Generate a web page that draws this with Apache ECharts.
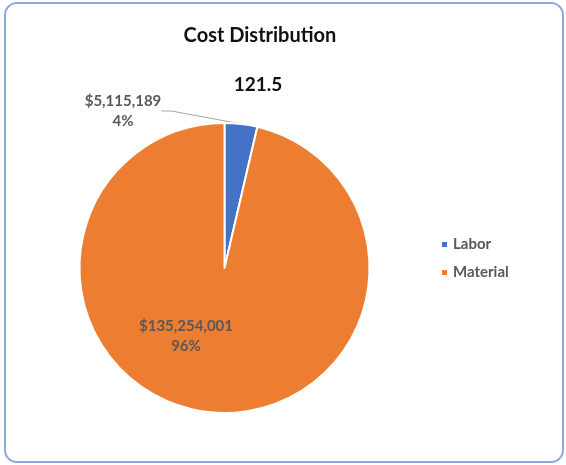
<!DOCTYPE html>
<html><head><meta charset="utf-8">
<script src="https://cdn.jsdelivr.net/npm/echarts@6/dist/echarts.min.js"></script>
<style>
html,body{margin:0;padding:0;background:#fff;overflow:hidden}
#c{position:absolute;left:0;top:0;width:566px;height:465px}
</style></head>
<body>
<div id="c"></div>
<script>
const categories = ['Labor', 'Material'];
const values = [5115189, 135254001];
const colors = ['#4472C4', '#ED7D31'];
const titleText = 'Cost Distribution';
const subtitleText = '121.5';

const total = values.reduce((a, b) => a + b, 0);
const fmt = v => '$' + v.toLocaleString('en-US');
const chart = echarts.init(document.getElementById('c'), null, {renderer: 'canvas'});
const font = 'Lato, "Open Sans", sans-serif';
chart.setOption({
  backgroundColor: '#fff',
  animation: false,
  graphic: [{
    type: 'rect', z: -10, silent: true,
    shape: {x: 5, y: 3, width: 558, height: 459, r: 12},
    style: {fill: 'none', stroke: '#8eaadb', lineWidth: 2}
  }],
  title: [
    {text: titleText, left: 255, top: 21, textAlign: 'center',
     textStyle: {fontFamily: font, fontWeight: 'bold', fontSize: 20, color: '#111'}},
    {text: subtitleText, left: 253, top: 70, textAlign: 'center',
     textStyle: {fontFamily: font, fontWeight: 'bold', fontSize: 19, color: '#111'}}
  ],
  legend: {
    orient: 'vertical', left: 435, top: 232, itemWidth: 7, itemHeight: 7, itemGap: 13,
    icon: 'rect',
    textStyle: {fontFamily: font, fontWeight: 'bold', fontSize: 15, color: '#595959'},
    data: categories
  },
  series: [{
    type: 'pie',
    center: [224.5, 268],
    radius: [0, 145],
    startAngle: 90,
    clockwise: true,
    itemStyle: {borderColor: '#fff', borderWidth: 2},
    label: {
      fontFamily: font, fontWeight: 'bold', fontSize: 15, color: '#595959', lineHeight: 20,
      formatter: p => fmt(p.value) + '\n' + Math.round(p.value / total * 100) + '%'
    },
    labelLine: {lineStyle: {color: '#a6a6a6', width: 1}, length: 10, length2: 10},
    labelLayout: function (p) {
      if (p.dataIndex === 0) return {x: 123, y: 111, align: 'center', verticalAlign: 'middle'};
      return {x: 186, y: 336, align: 'center', verticalAlign: 'middle'};
    },
    data: categories.map((n, i) => ({
      name: n, value: values[i], itemStyle: {color: colors[i]},
      label: {position: i === 0 ? 'outside' : 'inside'},
      labelLine: {show: i === 0}
    }))
  }]
});
</script>
</body></html>
